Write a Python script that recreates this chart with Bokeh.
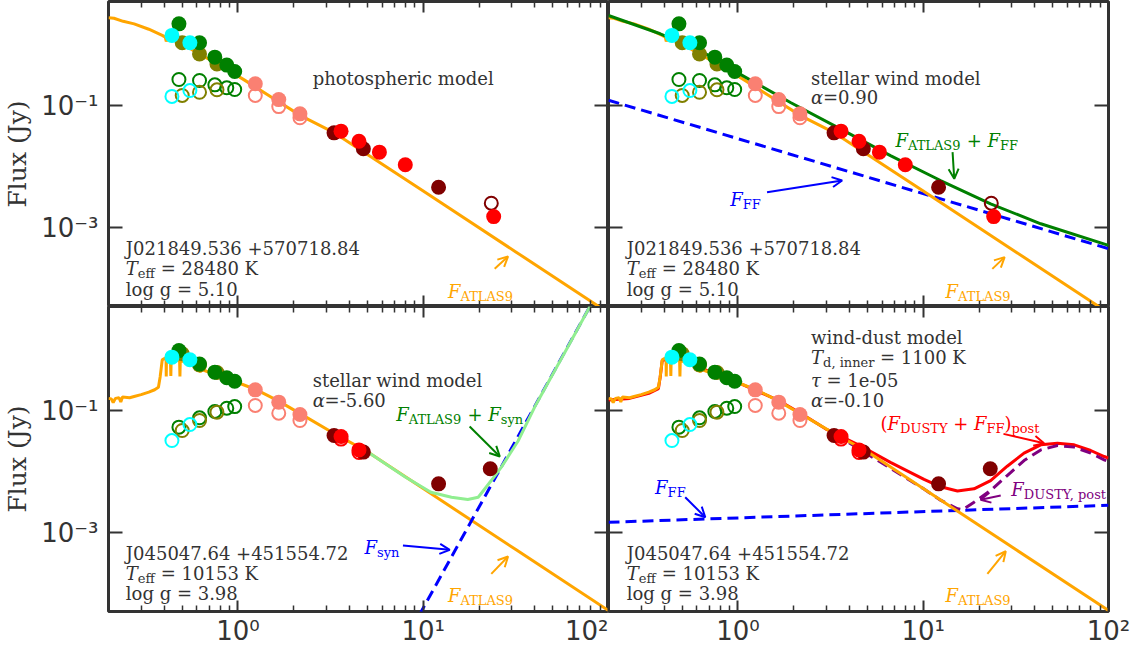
from bokeh.plotting import figure
from bokeh.layouts import gridplot
from bokeh.models import LogAxis, FixedTicker, Label, Arrow, OpenHead
from bokeh.embed import file_html
from bokeh.resources import INLINE

# ---------------- data ----------------
X_RANGE = (0.2, 100.0)
Y_RANGE = (5.07e-5, 5.07)
X_MAJOR = [1, 10, 100]
X_MINOR = [0.3, 0.4, 0.5, 0.6, 0.7, 0.8, 0.9, 2, 3, 4, 5, 6, 7, 8, 9,
           20, 30, 40, 50, 60, 70, 80, 90]
Y_MAJOR = [0.001, 0.1]
X_LABELS = {1: "10⁰", 10: "10¹", 100: "10²"}
Y_LABELS = {0.001: "10⁻³", 0.1: "10⁻¹"}

# photometric bands (micron)
wl_cyan = [0.44, 0.55]
wl_olive = [0.50, 0.62, 0.77]
wl_green = [0.48, 0.62, 0.75, 0.87, 0.96]
wl_salmon = [1.24, 1.66, 2.16]

# star 1: J021849.536 +570718.84
s1_cyan = [1.41, 1.07]
s1_cyan_obs = [0.141, 0.176]
s1_olive = [1.07, 0.70, 0.48]
s1_olive_obs = [0.146, 0.165, 0.181]
s1_green = [2.18, 1.07, 0.62, 0.46, 0.36]
s1_green_obs = [0.267, 0.257, 0.218, 0.195, 0.183]
s1_salmon = [0.227, 0.125, 0.073]
s1_salmon_obs = [0.146, 0.096, 0.063]
s1_maroon_wl = [3.3, 4.75, 12.1]
s1_maroon = [0.0356, 0.0195, 0.00458]
s1_maroon_obs_wl = [23.3]
s1_maroon_obs = [0.0025]
s1_red_wl = [3.6, 4.5, 5.8, 8.0, 24.0]
s1_red = [0.038, 0.026, 0.0172, 0.0107, 0.00151]

s1_atlas_wl = [0.200, 0.214, 0.24, 0.275, 0.33, 0.39, 0.405, 0.41, 0.415, 0.49,
               0.605, 0.776, 1.08, 1.51, 2.19, 3.32, 10.0, 31.6, 100.0]
s1_atlas_f = [2.75, 2.69, 2.40, 2.18, 1.78, 1.41, 1.32, 1.12, 1.29, 1.09,
              0.72, 0.483, 0.263, 0.138, 0.0676, 0.0355, 0.00398, 3.98e-4, 3.98e-5]
s1_total_wl = [0.2, 0.38, 0.625, 1.03, 1.92, 3.57, 6.65, 12.4, 23.1, 43.1, 100.0]
s1_total_f = [2.99, 1.50, 0.798, 0.324, 0.112, 0.0415, 0.0151, 0.00589, 0.00244, 0.00115, 5.1e-4]
s1_ff_wl = [0.2, 100.0]
s1_ff_f = [0.122, 4.5e-4]

# star 2: J045047.64 +451554.72
s2_cyan = [0.75, 0.68]
s2_cyan_obs = [0.0322, 0.0589]
s2_olive = [0.85, 0.56, 0.42]
s2_olive_obs = [0.047, 0.0686, 0.094]
s2_green = [0.96, 0.58, 0.425, 0.344, 0.302]
s2_green_obs = [0.0533, 0.0759, 0.0964, 0.109, 0.116]
s2_salmon = [0.218, 0.137, 0.0859]
s2_salmon_obs = [0.121, 0.0903, 0.0686]
s2_maroon_wl = [3.3, 4.75, 12.1, 23.0]
s2_maroon = [0.0389, 0.0208, 0.00628, 0.0111]
s2_red_wl = [3.6, 4.5]
s2_red = [0.0375, 0.0226]
s2_red_obs = [0.034, 0.0205]

s2_atlas_wl = [0.200, 0.207, 0.212, 0.218, 0.228, 0.233, 0.238, 0.26, 0.275, 0.30,
               0.33, 0.355, 0.372, 0.38, 0.39, 0.405, 0.409, 0.41, 0.411, 0.432,
               0.434, 0.436, 0.445, 0.484, 0.486, 0.488, 0.557, 0.622, 0.625, 0.628,
               0.655, 0.776, 0.995, 1.276, 1.64, 2.19, 3.32, 5.02, 10.0, 31.6, 100.0]
s2_atlas_f = [0.158, 0.155, 0.135, 0.158, 0.162, 0.138, 0.166, 0.162, 0.170, 0.182,
              0.200, 0.219, 0.240, 0.355, 0.676, 0.724, 0.715, 0.36, 0.71, 0.70,
              0.37, 0.70, 0.741, 0.646, 0.363, 0.646, 0.617, 0.49, 0.42, 0.49,
              0.457, 0.372, 0.288, 0.214, 0.145, 0.0871, 0.0417, 0.0209, 0.00525,
              5.25e-4, 5.25e-5]
s2_syn_total_wl = [5.02, 8.0, 11.0, 14.2, 17.4, 19.8, 23.3, 26.4, 32.5, 40.0, 60.5, 85.0]
s2_syn_total_f = [0.0209, 0.00813, 0.00458, 0.00379, 0.00348, 0.00379, 0.00711,
                  0.01178, 0.0316, 0.115, 1.12, 7.41]
s2_syn_wl = [9.5, 85.0]
s2_syn_f = [4.37e-5, 7.41]
s2_dustff_wl = [0.2, 0.26, 0.33, 0.372, 0.38, 0.39, 0.445, 0.557, 0.776, 0.995, 1.64,
                2.19, 2.97, 4.58, 6.65, 10.1, 12.4, 15.3, 18.8, 23.1, 28.4, 35.0, 43.1,
                53.0, 65.3, 80.2, 94.8, 100.0]
s2_dustff_f = [0.148, 0.158, 0.191, 0.229, 0.347, 0.661, 0.724, 0.603, 0.372, 0.288,
               0.148, 0.0891, 0.0501, 0.0263, 0.0141, 0.00741, 0.00562, 0.00479,
               0.0052, 0.00711, 0.0122, 0.020, 0.0274, 0.0291, 0.0274, 0.0221,
               0.0176, 0.0166]
s2_dusty_wl = [3.32, 10.0, 12.4, 15.3, 16.3, 18.8, 23.1, 28.4, 35.0, 43.1, 53.0, 65.3,
               80.2, 94.8, 100.0]
s2_dusty_f = [0.0417, 0.00525, 0.00339, 0.00245, 0.00236, 0.00314, 0.00489, 0.00859,
              0.0151, 0.0226, 0.0267, 0.0251, 0.0200, 0.0155, 0.0145]
s2_ff_wl = [0.2, 100.0]
s2_ff_f = [1.47e-3, 2.79e-3]

# ---------------- style ----------------
FRAME = "#333333"
TXT = "#333333"
SERIF = "DejaVu Serif"
SANS = "DejaVu Sans"
C_GREEN, C_CYAN, C_OLIVE = "#008000", "#00FFFF", "#808000"
C_SALMON, C_MAROON, C_RED = "#FA8072", "#800000", "#FF0000"
C_ORANGE, C_BLUE, C_LGREEN, C_PURPLE = "#FFA500", "#0000FF", "#90EE90", "#800080"

EM = {' ': .318, '+': .838, '=': .838, '(': .390, ')': .390, ',': .318, '.': .318,
      '-': .338, 'α': .66, 'τ': .54,
      'A': .722, 'B': .735, 'C': .765, 'D': .802, 'E': .730, 'F': .694, 'G': .799,
      'H': .872, 'I': .395, 'J': .401, 'K': .747, 'L': .664, 'M': 1.024, 'N': .875,
      'O': .820, 'P': .673, 'R': .753, 'S': .685, 'T': .667, 'U': .843, 'V': .722,
      'W': 1.028, 'X': .712, 'Y': .660, 'Z': .695,
      'a': .596, 'b': .640, 'c': .560, 'd': .640, 'e': .592, 'f': .370, 'g': .640,
      'h': .644, 'i': .320, 'j': .310, 'k': .606, 'l': .320, 'm': .948, 'n': .644,
      'o': .602, 'p': .640, 'r': .478, 's': .513, 't': .402, 'u': .644, 'v': .565,
      'w': .856, 'x': .564, 'y': .565, 'z': .527}


def text_w(s, size):
    return sum(EM.get(c, .636) for c in s) * size


def rich(p, x, y, parts, color=TXT, size=18):
    off = 0.0
    for txt, kind in parts:
        fs = size * 0.72 if kind == "sub" else size
        dy = -6.5 - (5.0 if kind == "sub" else 0.0)
        lead = len(txt) - len(txt.lstrip(" "))
        trail = len(txt) - len(txt.rstrip(" "))
        core = txt.strip(" ")
        off += lead * EM[' '] * fs
        p.add_layout(Label(x=x, y=y, x_offset=off, y_offset=dy, text=core,
                           text_font=SERIF, text_font_size=f"{fs:.1f}px",
                           text_font_style="italic" if kind == "it" else "normal",
                           text_color=color, text_align="left",
                           text_baseline="alphabetic"))
        off += text_w(core, fs) + trail * EM[' '] * fs


def arrow(p, x0, y0, x1, y1, color):
    p.add_layout(Arrow(x_start=x0, y_start=y0, x_end=x1, y_end=y1,
                       line_color=color, line_width=2,
                       end=OpenHead(size=10, line_color=color, line_width=2)))


def style_axis(ax, tick_len, minor_len, labels=None, font_size="26px"):
    ax.axis_line_color = None
    ax.major_tick_in = tick_len
    ax.major_tick_out = 0
    ax.minor_tick_in = minor_len
    ax.minor_tick_out = 0
    ax.major_tick_line_color = FRAME
    ax.major_tick_line_width = 2
    ax.minor_tick_line_color = FRAME
    ax.minor_tick_line_width = 1.5
    if labels is None:
        ax.major_label_text_font_size = "0px"
        ax.major_label_standoff = 0
        ax.major_label_text_alpha = 0
    else:
        ax.major_label_overrides = labels
        ax.major_label_text_font = SANS
        ax.major_label_text_font_size = font_size
        ax.major_label_text_color = TXT
        ax.major_label_text_alpha = 1.0


def panel(left, top):
    p = figure(x_axis_type="log", y_axis_type="log", x_range=X_RANGE, y_range=Y_RANGE,
               frame_width=500, frame_height=305, output_backend="svg",
               toolbar_location=None,
               min_border_left=107 if left else 0, min_border_right=0 if left else 26,
               min_border_top=1 if top else 0, min_border_bottom=0 if top else 35)
    p.xgrid.visible = False
    p.ygrid.visible = False
    p.background_fill_color = "white"
    p.border_fill_color = "white"
    p.outline_line_color = FRAME
    p.outline_line_width = 3
    p.add_layout(LogAxis(), "above")
    p.add_layout(LogAxis(), "right")
    for ax in p.xaxis:
        ax.ticker = FixedTicker(ticks=X_MAJOR, minor_ticks=X_MINOR)
        style_axis(ax, 11, 6)
    for ax in p.yaxis:
        ax.ticker = FixedTicker(ticks=Y_MAJOR, minor_ticks=[])
        style_axis(ax, 14, 0)
    if not top:
        style_axis(p.below[0], 11, 6, labels=dict(X_LABELS))
        p.below[0].major_label_standoff = 4
    if left:
        ax = p.left[0]
        style_axis(ax, 14, 0, labels=Y_LABELS)
        ax.major_label_standoff = 10
        ax.axis_label = "Flux (Jy)"
        ax.axis_label_text_font = SERIF
        ax.axis_label_text_font_size = "25px"
        ax.axis_label_text_font_style = "normal"
        ax.axis_label_text_color = TXT
        ax.axis_label_standoff = 6
    return p


def points(p, s):
    kw = dict(size=13, fill_color=None, line_width=2)
    p.scatter(wl_green, s["green_obs"], line_color=C_GREEN, **kw)
    p.scatter(wl_olive, s["olive_obs"], line_color=C_OLIVE, **kw)
    p.scatter(wl_cyan, s["cyan_obs"], line_color=C_CYAN, **kw)
    p.scatter(wl_salmon, s["salmon_obs"], line_color=C_SALMON, **kw)
    if "red_obs" in s:
        p.scatter(s["red_wl"], s["red_obs"], line_color=C_RED, **kw)
    if "maroon_obs" in s:
        p.scatter(s["maroon_obs_wl"], s["maroon_obs"], line_color=C_MAROON, **kw)
    fk = dict(size=15, line_width=0)
    p.scatter(wl_olive, s["olive"], fill_color=C_OLIVE, **fk)
    p.scatter(wl_green, s["green"], fill_color=C_GREEN, **fk)
    p.scatter(wl_cyan, s["cyan"], fill_color=C_CYAN, **fk)
    p.scatter(wl_salmon, s["salmon"], fill_color=C_SALMON, **fk)
    p.scatter(s["maroon_wl"], s["maroon"], fill_color=C_MAROON, **fk)
    p.scatter(s["red_wl"], s["red"], fill_color=C_RED, **fk)


S1 = dict(cyan=s1_cyan, cyan_obs=s1_cyan_obs, olive=s1_olive, olive_obs=s1_olive_obs,
          green=s1_green, green_obs=s1_green_obs, salmon=s1_salmon,
          salmon_obs=s1_salmon_obs, maroon_wl=s1_maroon_wl, maroon=s1_maroon,
          maroon_obs_wl=s1_maroon_obs_wl, maroon_obs=s1_maroon_obs,
          red_wl=s1_red_wl, red=s1_red)
S2 = dict(cyan=s2_cyan, cyan_obs=s2_cyan_obs, olive=s2_olive, olive_obs=s2_olive_obs,
          green=s2_green, green_obs=s2_green_obs, salmon=s2_salmon,
          salmon_obs=s2_salmon_obs, maroon_wl=s2_maroon_wl, maroon=s2_maroon,
          red_wl=s2_red_wl, red=s2_red, red_obs=s2_red_obs)

DASH = "11 6"


def star_text(p, x, ys, name, teff, logg):
    rich(p, x, ys[0], [(name, "rm")])
    rich(p, x, ys[1], [("T", "it"), ("eff", "sub"), (f" = {teff} K", "rm")])
    rich(p, x, ys[2], [(f"log g = {logg}", "rm")])


def atlas_text(p, x, y):
    rich(p, x, y, [("F", "it"), ("ATLAS9", "sub")], color=C_ORANGE)


# ---- top left ----
p1 = panel(True, True)
p1.line(s1_atlas_wl, s1_atlas_f, line_color=C_ORANGE, line_width=3)
points(p1, S1)
rich(p1, 2.53, 0.36, [("photospheric model", "rm")])
star_text(p1, 0.248, [5.74e-4, 2.70e-4, 1.22e-4], "J021849.536 +570718.84", 28480, "5.10")
atlas_text(p1, 13.6, 1.16e-4)
arrow(p1, 24.3, 2.10e-4, 28.7, 3.35e-4, C_ORANGE)

# ---- top right ----
p2 = panel(False, True)
p2.line(s1_ff_wl, s1_ff_f, line_color=C_BLUE, line_width=3, line_dash=DASH)
p2.line(s1_atlas_wl, s1_atlas_f, line_color=C_ORANGE, line_width=3)
p2.line(s1_total_wl, s1_total_f, line_color=C_GREEN, line_width=3)
points(p2, S1)
rich(p2, 2.48, 0.36, [("stellar wind model", "rm")])
rich(p2, 2.48, 0.171, [("α", "it"), ("=0.90", "rm")])
rich(p2, 7.08, 0.0344, [("F", "it"), ("ATLAS9", "sub"), (" + ", "rm"), ("F", "it"),
                         ("FF", "sub")], color=C_GREEN)
arrow(p2, 14.4, 0.0172, 14.7, 0.00628, C_GREEN)
rich(p2, 0.908, 0.00365, [("F", "it"), ("FF", "sub")], color=C_BLUE)
arrow(p2, 1.435, 0.00379, 3.65, 0.00589, C_BLUE)
star_text(p2, 0.251, [5.74e-4, 2.70e-4, 1.22e-4], "J021849.536 +570718.84", 28480, "5.10")
atlas_text(p2, 13.2, 1.16e-4)
arrow(p2, 23.6, 2.10e-4, 27.5, 3.27e-4, C_ORANGE)

# ---- bottom left ----
p3 = panel(True, False)
p3.line(s2_atlas_wl, s2_atlas_f, line_color=C_ORANGE, line_width=3)
p3.line(s2_syn_wl, s2_syn_f, line_color=C_BLUE, line_width=3, line_dash=DASH)
p3.line(s2_syn_total_wl, s2_syn_total_f, line_color=C_LGREEN, line_width=3)
points(p3, S2)
rich(p3, 2.53, 0.40, [("stellar wind model", "rm")])
rich(p3, 2.53, 0.188, [("α", "it"), ("=-5.60", "rm")])
rich(p3, 7.15, 0.111, [("F", "it"), ("ATLAS9", "sub"), (" + ", "rm"), ("F", "it"),
                        ("syn", "sub")], color=C_GREEN)
arrow(p3, 17.8, 0.0547, 25.9, 0.0176, C_GREEN)
rich(p3, 4.82, 7.39e-4, [("F", "it"), ("syn", "sub")], color=C_BLUE)
arrow(p3, 7.77, 6.12e-4, 13.9, 5.2e-4, C_BLUE)
star_text(p3, 0.248, [5.89e-4, 2.70e-4, 1.27e-4], "J045047.64 +451554.72", 10153, "3.98")
atlas_text(p3, 13.6, 1.19e-4)
arrow(p3, 23.3, 2.10e-4, 28.7, 4.04e-4, C_ORANGE)

# ---- bottom right ----
p4 = panel(False, False)
p4.line(s2_ff_wl, s2_ff_f, line_color=C_BLUE, line_width=3, line_dash=DASH)
p4.line(s2_dustff_wl, s2_dustff_f, line_color=C_RED, line_width=3)
p4.line(s2_dusty_wl, s2_dusty_f, line_color=C_PURPLE, line_width=3, line_dash=DASH)
p4.line(s2_atlas_wl, s2_atlas_f, line_color=C_ORANGE, line_width=3)
points(p4, S2)
rich(p4, 2.48, 2.0, [("wind-dust model", "rm")])
rich(p4, 2.48, 0.94, [("T", "it"), ("d, inner", "sub"), (" = 1100 K", "rm")])
rich(p4, 2.48, 0.40, [("τ", "it"), (" = 1e-05", "rm")])
rich(p4, 2.48, 0.188, [("α", "it"), ("=-0.10", "rm")])
rich(p4, 5.88, 0.0797, [("(", "rm"), ("F", "it"), ("DUSTY", "sub"), (" + ", "rm"),
                         ("F", "it"), ("FF", "sub"), (")", "rm"), ("post", "sub")],
     color=C_RED)
arrow(p4, 27.1, 0.0414, 44.9, 0.0291, C_RED)
rich(p4, 29.9, 0.00644, [("F", "it"), ("DUSTY, post", "sub")], color=C_PURPLE)
arrow(p4, 26.2, 0.00404, 20.4, 0.00344, C_PURPLE)
rich(p4, 0.357, 0.0071, [("F", "it"), ("FF", "sub")], color=C_BLUE)
arrow(p4, 0.519, 0.00379, 0.666, 0.00178, C_BLUE)
star_text(p4, 0.251, [5.89e-4, 2.70e-4, 1.27e-4], "J045047.64 +451554.72", 10153, "3.98")
atlas_text(p4, 13.2, 1.19e-4)
arrow(p4, 22.2, 2.10e-4, 27.9, 4.93e-4, C_ORANGE)

grid = gridplot([[p1, p2], [p3, p4]], toolbar_location=None)
open("out.html", "w").write(file_html(grid, INLINE))
